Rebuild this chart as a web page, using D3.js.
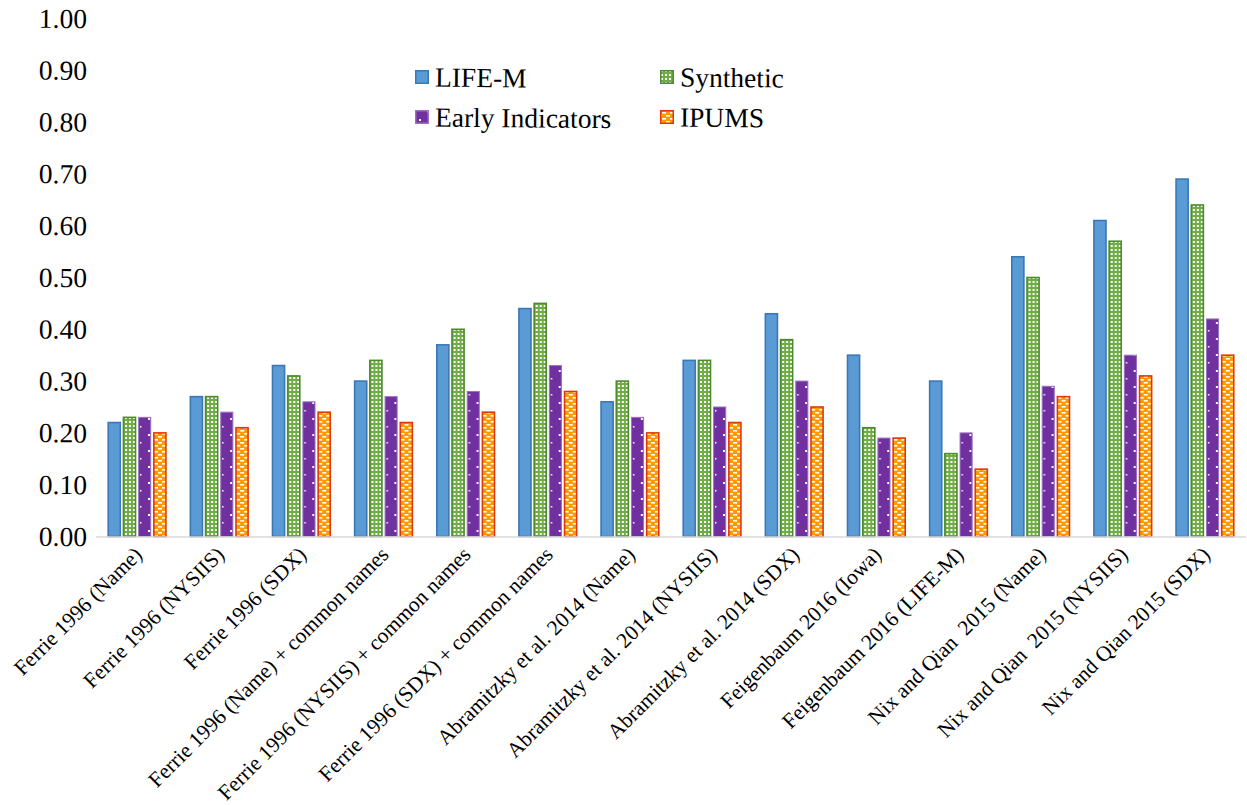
<!DOCTYPE html>
<html>
<head>
<meta charset="utf-8">
<script src="https://cdn.jsdelivr.net/npm/d3@7/dist/d3.min.js"></script>
<style>
  html, body { margin: 0; padding: 0; background: #fff; }
  svg { display: block; }
  text { text-rendering: geometricPrecision; }
</style>
</head>
<body>
<svg id="chart" width="1247" height="805"></svg>
<script>
// Linkage methods compared across four datasets
const categories = [
  "Ferrie 1996 (Name)",
  "Ferrie 1996 (NYSIIS)",
  "Ferrie 1996 (SDX)",
  "Ferrie 1996 (Name) + common names",
  "Ferrie 1996 (NYSIIS) + common names",
  "Ferrie 1996 (SDX) + common names",
  "Abramitzky et al. 2014 (Name)",
  "Abramitzky et al. 2014 (NYSIIS)",
  "Abramitzky et al. 2014 (SDX)",
  "Feigenbaum 2016 (Iowa)",
  "Feigenbaum 2016 (LIFE-M)",
  "Nix and Qian  2015 (Name)",
  "Nix and Qian  2015 (NYSIIS)",
  "Nix and Qian 2015 (SDX)"
];
const seriesNames = ["LIFE-M", "Synthetic", "Early Indicators", "IPUMS"];
const lifeM      = [0.22, 0.27, 0.33, 0.30, 0.37, 0.44, 0.26, 0.34, 0.43, 0.35, 0.30, 0.54, 0.61, 0.69];
const synthetic  = [0.23, 0.27, 0.31, 0.34, 0.40, 0.45, 0.30, 0.34, 0.38, 0.21, 0.16, 0.50, 0.57, 0.64];
const early      = [0.23, 0.24, 0.26, 0.27, 0.28, 0.33, 0.23, 0.25, 0.30, 0.19, 0.20, 0.29, 0.35, 0.42];
const ipums      = [0.20, 0.21, 0.24, 0.22, 0.24, 0.28, 0.20, 0.22, 0.25, 0.19, 0.13, 0.27, 0.31, 0.35];
const yTicks = [0, 0.1, 0.2, 0.3, 0.4, 0.5, 0.6, 0.7, 0.8, 0.9, 1.0];

const seriesValues = [lifeM, synthetic, early, ipums];
const FONT = "'Liberation Serif', 'Times New Roman', serif";
const BIG = 27.5;
// a slight tilt makes the large serif glyphs render from their outlines
const TILT = "rotate(0.5)";
const svg = d3.select("#chart");

// Fill patterns for each series
const defs = svg.append("defs");
function pattern(id, w, h, bg, marks) {
  const p = defs.append("pattern").attr("id", id)
    .attr("patternUnits", "userSpaceOnUse").attr("width", w).attr("height", h);
  p.append("rect").attr("width", w).attr("height", h).attr("fill", bg);
  marks.forEach(m => p.append("rect").attr("x", m[0]).attr("y", m[1])
    .attr("width", m[2]).attr("height", m[3]).attr("fill", "#fff"));
}
pattern("pSynth", 4, 4, "#70AD47", [[1, 1, 2, 2]]);
pattern("pEarly", 16, 16, "#7030A0", [[4, 2, 2, 2], [12, 10, 1.5, 1.5]]);
pattern("pIpums", 8, 6, "#FF9900", [[2, 1, 4, 1.6], [6, 4, 4, 1.6], [-2, 4, 4, 1.6]]);

const styles = [
  { fill: "#5B9BD5", stroke: "#3A78B5", sw: 1.6 },
  { fill: "url(#pSynth)", stroke: "#4E8A2E", sw: 1.6 },
  { fill: "url(#pEarly)", stroke: "#9A70C0", sw: 1 },
  { fill: "url(#pIpums)", stroke: "#E0380A", sw: 1.6 }
];

const x0 = 96, x1 = 1246, yBase = 536.5, yTop = 18.5;
const x = d3.scaleBand().domain(categories).range([x0, x1]).paddingInner(0).paddingOuter(0);
const xs = d3.scaleBand().domain(seriesNames).range([0, x.bandwidth()]).paddingInner(0.1).paddingOuter(0.75);
const y = d3.scaleLinear().domain([0, 1]).range([yBase, yTop]);

// Y tick labels
svg.append("g").selectAll("text").data(yTicks).join("text")
  .attr("transform", d => `translate(87,${y(d)}) ${TILT}`)
  .attr("dy", "0.35em").attr("text-anchor", "end").attr("fill", "#000")
  .attr("font-family", FONT).attr("font-size", BIG)
  .text(d => d3.format(".2f")(d));

// Bars
const groups = svg.append("g").selectAll("g").data(categories).join("g")
  .attr("transform", d => `translate(${x(d)},0)`);
groups.selectAll("rect")
  .data((d, i) => seriesNames.map((s, k) => ({ s, k, v: seriesValues[k][i] })))
  .join("rect")
  .attr("x", d => xs(d.s) + 0.8)
  .attr("width", xs.bandwidth() - 1.6)
  .attr("y", d => y(d.v))
  .attr("height", d => yBase - y(d.v))
  .attr("fill", d => styles[d.k].fill)
  .attr("stroke", d => styles[d.k].stroke)
  .attr("stroke-width", d => styles[d.k].sw);

// Baseline
svg.append("line").attr("x1", x0).attr("x2", x1).attr("y1", yBase + 0.5).attr("y2", yBase + 0.5)
  .attr("stroke", "#D9D9D9").attr("stroke-width", 1.5);

// Category labels
svg.append("g").selectAll("text").data(categories).join("text")
  .attr("transform", d => `translate(${x(d) + x.bandwidth() / 2 + 1},${yBase + 14}) rotate(-45)`)
  .attr("text-anchor", "end").attr("dy", "0.35em").attr("fill", "#000")
  .attr("font-family", FONT).attr("font-size", 21.5)
  .style("white-space", "pre")
  .text(d => d);

// Legend
const legendPos = [[415, 77], [660, 77], [415, 117], [660, 117]];
const lg = svg.append("g").selectAll("g").data(seriesNames).join("g")
  .attr("transform", (d, i) => `translate(${legendPos[i][0]},${legendPos[i][1]})`);
lg.append("rect").attr("x", 0.75).attr("y", -6.25).attr("width", 12.5).attr("height", 12.5)
  .attr("fill", (d, i) => styles[i].fill).attr("stroke", (d, i) => styles[i].stroke)
  .attr("stroke-width", 1.5);
lg.append("text").attr("transform", `translate(20,0) ${TILT}`)
  .attr("dy", "0.35em").attr("fill", "#000")
  .attr("font-family", FONT).attr("font-size", BIG)
  .text(d => d);
</script>
</body>
</html>
